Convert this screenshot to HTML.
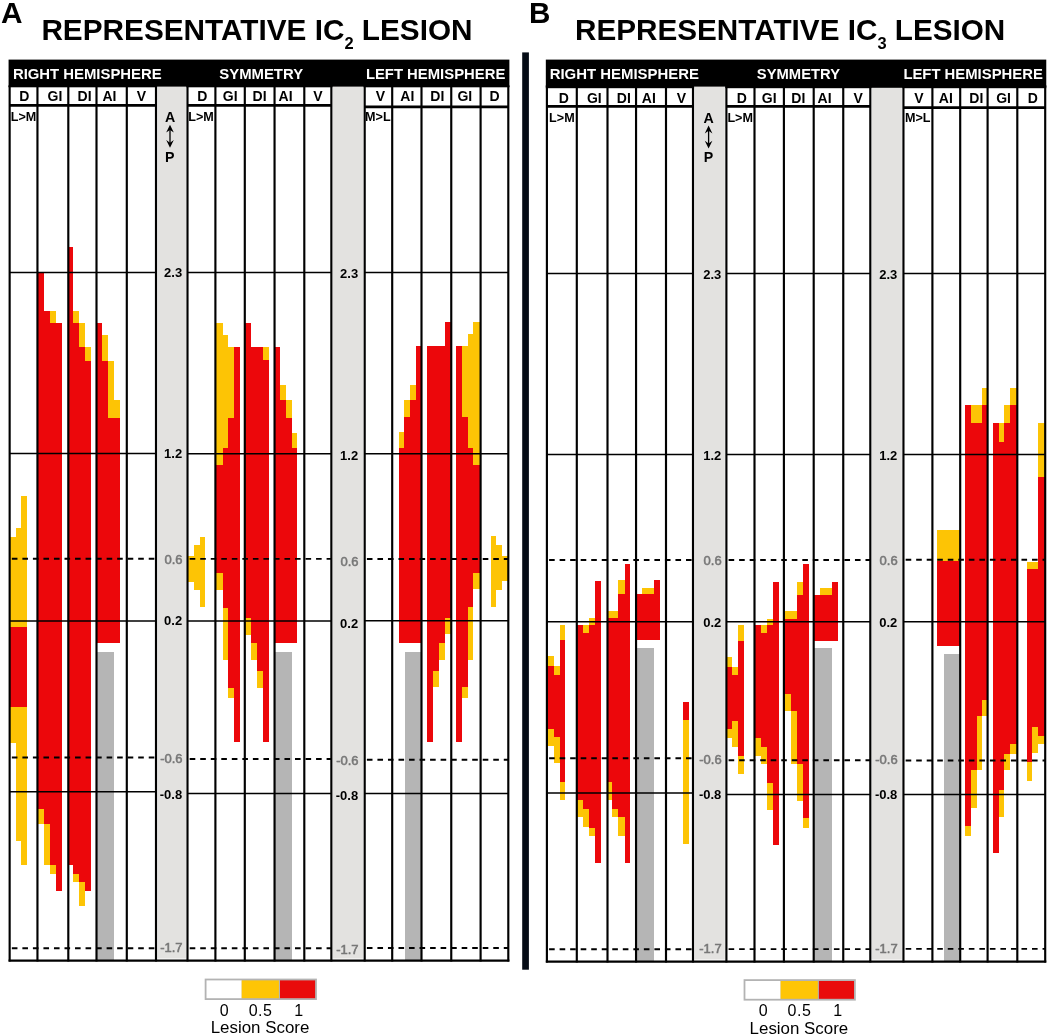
<!DOCTYPE html>
<html lang="en"><head><meta charset="utf-8"><title>Representative IC lesions</title>
<style>html,body{margin:0;padding:0;background:#fff}svg{display:block}</style></head>
<body>
<svg width="1050" height="1036" viewBox="0 0 1050 1036" font-family="'Liberation Sans', Arial, sans-serif">
<rect x="0" y="0" width="1050" height="1036" fill="#fff"/>
<rect x="157.38" y="86.10" width="28.55" height="872.40" fill="#e3e2e0"/>
<rect x="332.73" y="86.10" width="30.40" height="872.40" fill="#e3e2e0"/>
<g shape-rendering="crispEdges">
<rect x="21.30" y="496.40" width="5.40" height="130.50" fill="#fdc405"/>
<rect x="15.60" y="528.20" width="5.70" height="98.70" fill="#fdc405"/>
<rect x="10.20" y="537.00" width="5.40" height="89.90" fill="#fdc405"/>
<rect x="10.20" y="626.90" width="16.50" height="79.90" fill="#ec070b"/>
<rect x="10.20" y="706.80" width="5.40" height="35.80" fill="#fdc405"/>
<rect x="15.60" y="706.80" width="5.70" height="134.20" fill="#fdc405"/>
<rect x="21.30" y="706.80" width="5.40" height="158.20" fill="#fdc405"/>
<rect x="37.60" y="272.60" width="6.40" height="535.90" fill="#ec070b"/>
<rect x="44.00" y="311.30" width="6.00" height="512.30" fill="#ec070b"/>
<rect x="50.00" y="311.30" width="6.10" height="11.50" fill="#fdc405"/>
<rect x="50.00" y="322.80" width="6.10" height="542.20" fill="#ec070b"/>
<rect x="56.10" y="322.80" width="5.40" height="567.90" fill="#ec070b"/>
<rect x="37.60" y="808.50" width="6.40" height="15.10" fill="#fdc405"/>
<rect x="44.00" y="823.60" width="6.00" height="41.40" fill="#fdc405"/>
<rect x="50.00" y="865.00" width="6.10" height="8.80" fill="#fdc405"/>
<rect x="67.90" y="247.30" width="5.30" height="617.70" fill="#ec070b"/>
<rect x="73.20" y="311.30" width="6.10" height="11.50" fill="#fdc405"/>
<rect x="73.20" y="322.80" width="6.10" height="551.00" fill="#ec070b"/>
<rect x="79.30" y="322.80" width="5.30" height="23.80" fill="#fdc405"/>
<rect x="79.30" y="346.60" width="5.30" height="535.70" fill="#ec070b"/>
<rect x="84.60" y="346.60" width="6.10" height="13.90" fill="#fdc405"/>
<rect x="84.60" y="360.50" width="6.10" height="530.20" fill="#ec070b"/>
<rect x="73.20" y="873.80" width="6.10" height="8.50" fill="#fdc405"/>
<rect x="79.30" y="882.30" width="5.30" height="24.00" fill="#fdc405"/>
<rect x="97.00" y="322.80" width="5.20" height="320.30" fill="#ec070b"/>
<rect x="102.20" y="334.80" width="5.80" height="25.70" fill="#fdc405"/>
<rect x="102.20" y="360.50" width="5.80" height="282.60" fill="#ec070b"/>
<rect x="108.00" y="360.50" width="5.70" height="57.10" fill="#fdc405"/>
<rect x="113.70" y="400.20" width="5.80" height="17.40" fill="#fdc405"/>
<rect x="108.00" y="417.60" width="11.50" height="225.50" fill="#ec070b"/>
<rect x="97.00" y="651.80" width="17.10" height="308.80" fill="#b5b5b5"/>
<rect x="199.60" y="536.80" width="5.40" height="70.60" fill="#fdc405"/>
<rect x="193.50" y="545.30" width="6.10" height="44.70" fill="#fdc405"/>
<rect x="187.00" y="556.00" width="6.50" height="25.80" fill="#fdc405"/>
<rect x="215.20" y="322.60" width="7.40" height="142.30" fill="#fdc405"/>
<rect x="222.60" y="334.80" width="5.70" height="113.40" fill="#fdc405"/>
<rect x="228.30" y="346.80" width="5.40" height="71.00" fill="#fdc405"/>
<rect x="233.70" y="346.80" width="5.80" height="395.60" fill="#ec070b"/>
<rect x="228.30" y="417.80" width="5.40" height="270.00" fill="#ec070b"/>
<rect x="222.60" y="448.20" width="5.70" height="159.30" fill="#ec070b"/>
<rect x="215.20" y="464.90" width="7.40" height="108.30" fill="#ec070b"/>
<rect x="215.20" y="573.20" width="7.40" height="16.40" fill="#fdc405"/>
<rect x="222.60" y="607.50" width="5.70" height="52.40" fill="#fdc405"/>
<rect x="228.30" y="687.80" width="5.40" height="10.30" fill="#fdc405"/>
<rect x="244.90" y="322.60" width="5.90" height="295.80" fill="#ec070b"/>
<rect x="250.80" y="346.80" width="5.80" height="296.40" fill="#ec070b"/>
<rect x="256.60" y="346.80" width="5.90" height="324.10" fill="#ec070b"/>
<rect x="262.50" y="346.80" width="6.00" height="13.60" fill="#fdc405"/>
<rect x="262.50" y="360.40" width="6.00" height="382.00" fill="#ec070b"/>
<rect x="244.90" y="618.40" width="5.90" height="16.10" fill="#fdc405"/>
<rect x="250.80" y="643.20" width="5.80" height="16.70" fill="#fdc405"/>
<rect x="256.60" y="670.90" width="5.90" height="16.90" fill="#fdc405"/>
<rect x="274.60" y="346.80" width="5.40" height="296.40" fill="#ec070b"/>
<rect x="280.00" y="385.00" width="5.80" height="15.10" fill="#fdc405"/>
<rect x="280.00" y="400.10" width="5.80" height="243.10" fill="#ec070b"/>
<rect x="285.80" y="400.10" width="5.70" height="17.70" fill="#fdc405"/>
<rect x="285.80" y="417.80" width="5.70" height="225.40" fill="#ec070b"/>
<rect x="291.50" y="432.60" width="5.70" height="15.60" fill="#fdc405"/>
<rect x="291.50" y="448.20" width="5.70" height="195.00" fill="#ec070b"/>
<rect x="274.60" y="651.70" width="16.90" height="308.90" fill="#b5b5b5"/>
<rect x="490.80" y="536.40" width="5.40" height="70.60" fill="#fdc405"/>
<rect x="496.20" y="544.90" width="6.10" height="44.70" fill="#fdc405"/>
<rect x="502.30" y="555.60" width="6.50" height="25.80" fill="#fdc405"/>
<rect x="473.20" y="322.20" width="7.40" height="142.30" fill="#fdc405"/>
<rect x="467.50" y="334.40" width="5.70" height="113.40" fill="#fdc405"/>
<rect x="462.10" y="346.40" width="5.40" height="71.00" fill="#fdc405"/>
<rect x="456.30" y="346.40" width="5.80" height="395.60" fill="#ec070b"/>
<rect x="462.10" y="417.40" width="5.40" height="270.00" fill="#ec070b"/>
<rect x="467.50" y="447.80" width="5.70" height="159.30" fill="#ec070b"/>
<rect x="473.20" y="464.50" width="7.40" height="108.30" fill="#ec070b"/>
<rect x="473.20" y="572.80" width="7.40" height="16.40" fill="#fdc405"/>
<rect x="467.50" y="607.10" width="5.70" height="52.40" fill="#fdc405"/>
<rect x="462.10" y="687.40" width="5.40" height="10.30" fill="#fdc405"/>
<rect x="445.00" y="322.20" width="5.90" height="295.80" fill="#ec070b"/>
<rect x="439.20" y="346.40" width="5.80" height="296.40" fill="#ec070b"/>
<rect x="433.30" y="346.40" width="5.90" height="324.10" fill="#ec070b"/>
<rect x="427.30" y="346.40" width="6.00" height="13.60" fill="#ec070b"/>
<rect x="427.30" y="360.00" width="6.00" height="382.00" fill="#ec070b"/>
<rect x="445.00" y="618.00" width="5.90" height="16.10" fill="#fdc405"/>
<rect x="439.20" y="642.80" width="5.80" height="16.70" fill="#fdc405"/>
<rect x="433.30" y="670.50" width="5.90" height="16.90" fill="#fdc405"/>
<rect x="415.80" y="346.40" width="5.40" height="296.40" fill="#ec070b"/>
<rect x="410.00" y="384.60" width="5.80" height="15.10" fill="#fdc405"/>
<rect x="410.00" y="399.70" width="5.80" height="243.10" fill="#ec070b"/>
<rect x="404.30" y="399.70" width="5.70" height="17.70" fill="#fdc405"/>
<rect x="404.30" y="417.40" width="5.70" height="225.40" fill="#ec070b"/>
<rect x="398.60" y="432.20" width="5.70" height="15.60" fill="#fdc405"/>
<rect x="398.60" y="447.80" width="5.70" height="195.00" fill="#ec070b"/>
<rect x="404.70" y="651.70" width="16.50" height="308.90" fill="#b5b5b5"/>
</g>
<line x1="9.65" x2="156.00" y1="272.60" y2="272.60" stroke="#000" stroke-width="1.5"/>
<line x1="9.65" x2="156.00" y1="453.50" y2="453.50" stroke="#000" stroke-width="1.5"/>
<line x1="11.85" x2="156.00" y1="558.80" y2="558.80" stroke="#000" stroke-width="1.9" stroke-dasharray="5.6 4.93"/>
<line x1="9.65" x2="156.00" y1="620.90" y2="620.90" stroke="#000" stroke-width="1.5"/>
<line x1="11.85" x2="156.00" y1="757.50" y2="757.50" stroke="#000" stroke-width="1.9" stroke-dasharray="5.6 4.93"/>
<line x1="9.65" x2="156.00" y1="791.80" y2="791.80" stroke="#000" stroke-width="1.5"/>
<line x1="11.85" x2="156.00" y1="948.20" y2="948.20" stroke="#000" stroke-width="1.9" stroke-dasharray="5.6 4.93"/>
<line x1="9.65" x2="156.00" y1="105.35" y2="105.35" stroke="#000" stroke-width="2.8"/>
<line x1="9.65" x2="9.65" y1="85.60" y2="961.60" stroke="#000" stroke-width="2.15"/>
<line x1="37.45" x2="37.45" y1="85.60" y2="961.60" stroke="#000" stroke-width="2.15"/>
<line x1="68.30" x2="68.30" y1="85.60" y2="961.60" stroke="#000" stroke-width="2.15"/>
<line x1="96.50" x2="96.50" y1="85.60" y2="961.60" stroke="#000" stroke-width="2.15"/>
<line x1="126.80" x2="126.80" y1="85.60" y2="961.60" stroke="#000" stroke-width="2.15"/>
<line x1="156.00" x2="156.00" y1="85.60" y2="961.60" stroke="#000" stroke-width="2.15"/>
<rect x="8.58" y="85.60" width="148.50" height="1.70" fill="#000"/>
<line x1="187.50" x2="331.35" y1="272.50" y2="272.50" stroke="#000" stroke-width="1.5"/>
<line x1="187.50" x2="331.35" y1="453.80" y2="453.80" stroke="#000" stroke-width="1.5"/>
<line x1="189.70" x2="331.35" y1="558.90" y2="558.90" stroke="#000" stroke-width="1.9" stroke-dasharray="5.6 4.93"/>
<line x1="187.50" x2="331.35" y1="620.90" y2="620.90" stroke="#000" stroke-width="1.5"/>
<line x1="189.70" x2="331.35" y1="759.00" y2="759.00" stroke="#000" stroke-width="1.9" stroke-dasharray="5.6 4.93"/>
<line x1="187.50" x2="331.35" y1="793.50" y2="793.50" stroke="#000" stroke-width="1.5"/>
<line x1="189.70" x2="331.35" y1="948.20" y2="948.20" stroke="#000" stroke-width="1.9" stroke-dasharray="5.6 4.93"/>
<line x1="187.50" x2="331.35" y1="105.30" y2="105.30" stroke="#000" stroke-width="2.8"/>
<line x1="187.50" x2="187.50" y1="85.60" y2="961.60" stroke="#000" stroke-width="2.15"/>
<line x1="215.40" x2="215.40" y1="85.60" y2="961.60" stroke="#000" stroke-width="2.15"/>
<line x1="244.80" x2="244.80" y1="85.60" y2="961.60" stroke="#000" stroke-width="2.15"/>
<line x1="274.55" x2="274.55" y1="85.60" y2="961.60" stroke="#000" stroke-width="2.15"/>
<line x1="304.30" x2="304.30" y1="85.60" y2="961.60" stroke="#000" stroke-width="2.15"/>
<line x1="331.35" x2="331.35" y1="85.60" y2="961.60" stroke="#000" stroke-width="2.15"/>
<rect x="186.43" y="85.60" width="146.00" height="1.70" fill="#000"/>
<line x1="364.70" x2="508.30" y1="272.50" y2="272.50" stroke="#000" stroke-width="1.5"/>
<line x1="364.70" x2="508.30" y1="453.80" y2="453.80" stroke="#000" stroke-width="1.5"/>
<line x1="366.90" x2="508.30" y1="559.00" y2="559.00" stroke="#000" stroke-width="1.9" stroke-dasharray="5.6 4.93"/>
<line x1="364.70" x2="508.30" y1="620.70" y2="620.70" stroke="#000" stroke-width="1.5"/>
<line x1="366.90" x2="508.30" y1="759.80" y2="759.80" stroke="#000" stroke-width="1.9" stroke-dasharray="5.6 4.93"/>
<line x1="364.70" x2="508.30" y1="793.50" y2="793.50" stroke="#000" stroke-width="1.5"/>
<line x1="366.90" x2="508.30" y1="948.00" y2="948.00" stroke="#000" stroke-width="1.9" stroke-dasharray="5.6 4.93"/>
<line x1="364.70" x2="508.30" y1="106.90" y2="106.90" stroke="#000" stroke-width="2.8"/>
<line x1="364.70" x2="364.70" y1="85.60" y2="961.60" stroke="#000" stroke-width="2.15"/>
<line x1="392.20" x2="392.20" y1="85.60" y2="961.60" stroke="#000" stroke-width="2.15"/>
<line x1="421.50" x2="421.50" y1="85.60" y2="961.60" stroke="#000" stroke-width="2.15"/>
<line x1="451.25" x2="451.25" y1="85.60" y2="961.60" stroke="#000" stroke-width="2.15"/>
<line x1="480.60" x2="480.60" y1="85.60" y2="961.60" stroke="#000" stroke-width="2.15"/>
<line x1="508.30" x2="508.30" y1="85.60" y2="961.60" stroke="#000" stroke-width="2.15"/>
<rect x="363.62" y="85.60" width="145.75" height="1.70" fill="#000"/>
<line x1="8.58" x2="509.38" y1="960.60" y2="960.60" stroke="#000" stroke-width="2.1"/>
<rect x="8.58" y="59.60" width="500.80" height="27.00" fill="#000"/>
<rect x="694.38" y="86.10" width="30.45" height="873.40" fill="#e3e2e0"/>
<rect x="871.67" y="87.40" width="30.20" height="872.10" fill="#e3e2e0"/>
<g shape-rendering="crispEdges">
<rect x="559.70" y="624.80" width="5.70" height="15.60" fill="#fdc405"/>
<rect x="559.70" y="640.40" width="5.70" height="141.60" fill="#ec070b"/>
<rect x="559.70" y="782.00" width="5.70" height="18.10" fill="#fdc405"/>
<rect x="547.00" y="655.70" width="6.60" height="10.30" fill="#fdc405"/>
<rect x="547.00" y="666.00" width="6.60" height="62.70" fill="#ec070b"/>
<rect x="547.00" y="728.70" width="6.60" height="17.70" fill="#fdc405"/>
<rect x="553.60" y="666.00" width="6.10" height="8.60" fill="#fdc405"/>
<rect x="553.60" y="674.60" width="6.10" height="62.80" fill="#ec070b"/>
<rect x="553.60" y="737.40" width="6.10" height="25.40" fill="#fdc405"/>
<rect x="594.60" y="580.50" width="6.10" height="282.40" fill="#ec070b"/>
<rect x="588.90" y="618.00" width="5.70" height="6.50" fill="#fdc405"/>
<rect x="588.90" y="624.50" width="5.70" height="203.00" fill="#ec070b"/>
<rect x="588.90" y="827.50" width="5.70" height="8.40" fill="#fdc405"/>
<rect x="576.70" y="624.50" width="6.30" height="175.90" fill="#ec070b"/>
<rect x="576.70" y="800.40" width="6.30" height="16.90" fill="#fdc405"/>
<rect x="583.00" y="624.50" width="5.90" height="8.50" fill="#fdc405"/>
<rect x="583.00" y="633.00" width="5.90" height="176.10" fill="#ec070b"/>
<rect x="583.00" y="809.10" width="5.90" height="18.10" fill="#fdc405"/>
<rect x="624.50" y="563.80" width="5.80" height="299.10" fill="#ec070b"/>
<rect x="618.40" y="580.20" width="6.10" height="14.00" fill="#fdc405"/>
<rect x="618.40" y="594.20" width="6.10" height="223.10" fill="#ec070b"/>
<rect x="618.40" y="817.30" width="6.10" height="18.60" fill="#fdc405"/>
<rect x="607.40" y="610.90" width="11.00" height="7.10" fill="#fdc405"/>
<rect x="607.40" y="618.00" width="4.80" height="164.00" fill="#ec070b"/>
<rect x="607.40" y="782.00" width="4.80" height="18.10" fill="#fdc405"/>
<rect x="612.20" y="618.00" width="6.20" height="191.10" fill="#ec070b"/>
<rect x="612.20" y="809.10" width="6.20" height="8.20" fill="#fdc405"/>
<rect x="653.70" y="580.20" width="6.10" height="60.20" fill="#ec070b"/>
<rect x="642.10" y="587.60" width="11.60" height="6.60" fill="#fdc405"/>
<rect x="636.00" y="594.20" width="17.70" height="46.20" fill="#ec070b"/>
<rect x="636.00" y="647.50" width="17.50" height="314.10" fill="#b5b5b5"/>
<rect x="683.30" y="701.60" width="5.70" height="18.40" fill="#ec070b"/>
<rect x="683.30" y="720.00" width="5.70" height="123.90" fill="#fdc405"/>
<rect x="738.00" y="625.30" width="5.70" height="15.90" fill="#fdc405"/>
<rect x="738.00" y="641.20" width="5.70" height="114.40" fill="#ec070b"/>
<rect x="738.00" y="755.60" width="5.70" height="18.40" fill="#fdc405"/>
<rect x="726.40" y="656.50" width="5.50" height="10.30" fill="#fdc405"/>
<rect x="726.40" y="666.80" width="5.50" height="62.60" fill="#ec070b"/>
<rect x="726.40" y="729.40" width="5.50" height="8.70" fill="#fdc405"/>
<rect x="731.90" y="666.80" width="6.10" height="8.20" fill="#fdc405"/>
<rect x="731.90" y="675.00" width="6.10" height="46.20" fill="#ec070b"/>
<rect x="731.90" y="721.20" width="6.10" height="25.90" fill="#fdc405"/>
<rect x="773.30" y="581.50" width="5.70" height="263.60" fill="#ec070b"/>
<rect x="767.20" y="618.80" width="6.10" height="6.50" fill="#fdc405"/>
<rect x="767.20" y="625.30" width="6.10" height="157.70" fill="#ec070b"/>
<rect x="767.20" y="783.00" width="6.10" height="26.50" fill="#fdc405"/>
<rect x="754.40" y="625.30" width="6.90" height="112.80" fill="#ec070b"/>
<rect x="754.40" y="738.10" width="6.90" height="17.50" fill="#fdc405"/>
<rect x="761.30" y="625.30" width="5.90" height="7.70" fill="#fdc405"/>
<rect x="761.30" y="633.00" width="5.90" height="114.10" fill="#ec070b"/>
<rect x="761.30" y="747.10" width="5.90" height="16.70" fill="#fdc405"/>
<rect x="802.60" y="564.30" width="5.90" height="253.70" fill="#ec070b"/>
<rect x="802.60" y="818.00" width="5.90" height="10.30" fill="#fdc405"/>
<rect x="796.60" y="581.80" width="6.00" height="13.20" fill="#fdc405"/>
<rect x="796.60" y="595.00" width="6.00" height="168.80" fill="#ec070b"/>
<rect x="796.60" y="763.80" width="6.00" height="37.50" fill="#fdc405"/>
<rect x="783.90" y="611.40" width="12.70" height="7.40" fill="#fdc405"/>
<rect x="783.90" y="618.80" width="6.90" height="75.00" fill="#ec070b"/>
<rect x="783.90" y="693.80" width="6.90" height="16.70" fill="#fdc405"/>
<rect x="790.80" y="618.80" width="5.80" height="91.70" fill="#ec070b"/>
<rect x="790.80" y="710.50" width="5.80" height="53.30" fill="#fdc405"/>
<rect x="832.00" y="581.80" width="5.70" height="59.40" fill="#ec070b"/>
<rect x="820.00" y="588.10" width="12.00" height="6.90" fill="#fdc405"/>
<rect x="813.50" y="595.00" width="18.50" height="46.20" fill="#ec070b"/>
<rect x="813.50" y="648.00" width="18.50" height="313.60" fill="#b5b5b5"/>
<rect x="1037.90" y="423.30" width="6.90" height="53.40" fill="#fdc405"/>
<rect x="1037.90" y="476.70" width="6.90" height="259.10" fill="#ec070b"/>
<rect x="1037.90" y="735.80" width="6.90" height="7.90" fill="#fdc405"/>
<rect x="1026.50" y="561.80" width="11.40" height="6.90" fill="#fdc405"/>
<rect x="1032.30" y="568.70" width="5.60" height="158.40" fill="#ec070b"/>
<rect x="1032.30" y="727.10" width="5.60" height="25.90" fill="#fdc405"/>
<rect x="1026.50" y="568.70" width="5.80" height="193.30" fill="#ec070b"/>
<rect x="1026.50" y="762.00" width="5.80" height="19.20" fill="#fdc405"/>
<rect x="1009.60" y="387.70" width="7.50" height="17.60" fill="#fdc405"/>
<rect x="1009.60" y="405.30" width="7.50" height="338.40" fill="#ec070b"/>
<rect x="1009.60" y="743.70" width="7.50" height="10.10" fill="#fdc405"/>
<rect x="1004.20" y="405.30" width="5.40" height="18.00" fill="#fdc405"/>
<rect x="1004.20" y="423.30" width="5.40" height="330.50" fill="#ec070b"/>
<rect x="1004.20" y="753.80" width="5.40" height="16.50" fill="#fdc405"/>
<rect x="998.60" y="423.30" width="5.60" height="18.90" fill="#fdc405"/>
<rect x="998.60" y="442.20" width="5.60" height="347.80" fill="#ec070b"/>
<rect x="998.60" y="790.00" width="5.60" height="27.00" fill="#fdc405"/>
<rect x="993.20" y="423.30" width="5.40" height="429.50" fill="#ec070b"/>
<rect x="981.70" y="387.70" width="6.30" height="17.60" fill="#fdc405"/>
<rect x="981.70" y="405.30" width="6.30" height="294.40" fill="#ec070b"/>
<rect x="981.70" y="699.70" width="6.30" height="16.70" fill="#fdc405"/>
<rect x="970.70" y="405.30" width="11.00" height="18.00" fill="#fdc405"/>
<rect x="976.50" y="423.30" width="5.20" height="293.10" fill="#ec070b"/>
<rect x="976.50" y="716.40" width="5.20" height="53.90" fill="#fdc405"/>
<rect x="970.70" y="423.30" width="5.80" height="347.00" fill="#ec070b"/>
<rect x="970.70" y="770.30" width="5.80" height="38.00" fill="#fdc405"/>
<rect x="965.00" y="405.30" width="5.70" height="420.50" fill="#ec070b"/>
<rect x="965.00" y="825.80" width="5.70" height="9.70" fill="#fdc405"/>
<rect x="937.40" y="530.40" width="23.00" height="30.60" fill="#fdc405"/>
<rect x="937.40" y="561.00" width="23.00" height="85.40" fill="#ec070b"/>
<rect x="943.70" y="653.70" width="16.70" height="307.90" fill="#b5b5b5"/>
</g>
<line x1="546.90" x2="693.00" y1="273.40" y2="273.40" stroke="#000" stroke-width="1.5"/>
<line x1="546.90" x2="693.00" y1="454.50" y2="454.50" stroke="#000" stroke-width="1.5"/>
<line x1="549.10" x2="693.00" y1="560.00" y2="560.00" stroke="#000" stroke-width="1.9" stroke-dasharray="5.6 4.93"/>
<line x1="546.90" x2="693.00" y1="621.70" y2="621.70" stroke="#000" stroke-width="1.5"/>
<line x1="549.10" x2="693.00" y1="758.20" y2="758.20" stroke="#000" stroke-width="1.9" stroke-dasharray="5.6 4.93"/>
<line x1="546.90" x2="693.00" y1="792.90" y2="792.90" stroke="#000" stroke-width="1.5"/>
<line x1="549.10" x2="693.00" y1="949.20" y2="949.20" stroke="#000" stroke-width="1.9" stroke-dasharray="5.6 4.93"/>
<line x1="546.90" x2="693.00" y1="106.30" y2="106.30" stroke="#000" stroke-width="2.8"/>
<line x1="546.90" x2="546.90" y1="85.60" y2="962.60" stroke="#000" stroke-width="2.15"/>
<line x1="576.80" x2="576.80" y1="85.60" y2="962.60" stroke="#000" stroke-width="2.15"/>
<line x1="607.50" x2="607.50" y1="85.60" y2="962.60" stroke="#000" stroke-width="2.15"/>
<line x1="636.05" x2="636.05" y1="85.60" y2="962.60" stroke="#000" stroke-width="2.15"/>
<line x1="666.00" x2="666.00" y1="85.60" y2="962.60" stroke="#000" stroke-width="2.15"/>
<line x1="693.00" x2="693.00" y1="85.60" y2="962.60" stroke="#000" stroke-width="2.15"/>
<rect x="545.82" y="85.60" width="148.25" height="2.60" fill="#000"/>
<line x1="726.40" x2="870.30" y1="273.40" y2="273.40" stroke="#000" stroke-width="1.5"/>
<line x1="726.40" x2="870.30" y1="454.50" y2="454.50" stroke="#000" stroke-width="1.5"/>
<line x1="728.60" x2="870.30" y1="560.00" y2="560.00" stroke="#000" stroke-width="1.9" stroke-dasharray="5.6 4.93"/>
<line x1="726.40" x2="870.30" y1="621.80" y2="621.80" stroke="#000" stroke-width="1.5"/>
<line x1="728.60" x2="870.30" y1="760.20" y2="760.20" stroke="#000" stroke-width="1.9" stroke-dasharray="5.6 4.93"/>
<line x1="726.40" x2="870.30" y1="794.50" y2="794.50" stroke="#000" stroke-width="1.5"/>
<line x1="728.60" x2="870.30" y1="949.10" y2="949.10" stroke="#000" stroke-width="1.9" stroke-dasharray="5.6 4.93"/>
<line x1="726.40" x2="870.30" y1="106.30" y2="106.30" stroke="#000" stroke-width="2.8"/>
<line x1="726.40" x2="726.40" y1="85.60" y2="962.60" stroke="#000" stroke-width="2.15"/>
<line x1="754.50" x2="754.50" y1="85.60" y2="962.60" stroke="#000" stroke-width="2.15"/>
<line x1="783.90" x2="783.90" y1="85.60" y2="962.60" stroke="#000" stroke-width="2.15"/>
<line x1="813.70" x2="813.70" y1="85.60" y2="962.60" stroke="#000" stroke-width="2.15"/>
<line x1="843.25" x2="843.25" y1="85.60" y2="962.60" stroke="#000" stroke-width="2.15"/>
<line x1="870.30" x2="870.30" y1="85.60" y2="962.60" stroke="#000" stroke-width="2.15"/>
<rect x="725.32" y="85.60" width="146.05" height="2.60" fill="#000"/>
<line x1="903.45" x2="1045.20" y1="273.40" y2="273.40" stroke="#000" stroke-width="1.5"/>
<line x1="903.45" x2="1045.20" y1="454.50" y2="454.50" stroke="#000" stroke-width="1.5"/>
<line x1="905.65" x2="1045.20" y1="559.80" y2="559.80" stroke="#000" stroke-width="1.9" stroke-dasharray="5.6 4.93"/>
<line x1="903.45" x2="1045.20" y1="621.80" y2="621.80" stroke="#000" stroke-width="1.5"/>
<line x1="905.65" x2="1045.20" y1="760.50" y2="760.50" stroke="#000" stroke-width="1.9" stroke-dasharray="5.6 4.93"/>
<line x1="903.45" x2="1045.20" y1="794.50" y2="794.50" stroke="#000" stroke-width="1.5"/>
<line x1="905.65" x2="1045.20" y1="948.90" y2="948.90" stroke="#000" stroke-width="1.9" stroke-dasharray="5.6 4.93"/>
<line x1="903.45" x2="1045.20" y1="107.70" y2="107.70" stroke="#000" stroke-width="2.8"/>
<line x1="903.45" x2="903.45" y1="85.60" y2="962.60" stroke="#000" stroke-width="2.15"/>
<line x1="932.40" x2="932.40" y1="85.60" y2="962.60" stroke="#000" stroke-width="2.15"/>
<line x1="960.20" x2="960.20" y1="85.60" y2="962.60" stroke="#000" stroke-width="2.15"/>
<line x1="987.60" x2="987.60" y1="85.60" y2="962.60" stroke="#000" stroke-width="2.15"/>
<line x1="1017.30" x2="1017.30" y1="85.60" y2="962.60" stroke="#000" stroke-width="2.15"/>
<line x1="1045.20" x2="1045.20" y1="85.60" y2="962.60" stroke="#000" stroke-width="2.15"/>
<rect x="902.38" y="85.60" width="143.90" height="2.60" fill="#000"/>
<line x1="545.82" x2="1046.28" y1="961.60" y2="961.60" stroke="#000" stroke-width="2.1"/>
<rect x="545.82" y="59.60" width="500.45" height="27.00" fill="#000"/>
<rect x="870.30" y="85.60" width="33.15" height="2.20" fill="#000"/>
<rect x="522.20" y="52.40" width="6.70" height="917.30" fill="#050c16"/>
<text x="0.90" y="23.30" font-size="29.8" font-weight="bold" fill="#000" text-anchor="start">A</text>
<text x="528.90" y="23.30" font-size="29.6" font-weight="bold" fill="#000" text-anchor="start">B</text>
<text x="41.40" y="39.7" font-size="29.8" font-weight="bold" fill="#000" textLength="431.2" lengthAdjust="spacingAndGlyphs">REPRESENTATIVE IC<tspan font-size="16.5" dy="9.6">2</tspan><tspan dy="-9.6"> LESION</tspan></text>
<text x="575.00" y="39.7" font-size="29.8" font-weight="bold" fill="#000" textLength="430.3" lengthAdjust="spacingAndGlyphs">REPRESENTATIVE IC<tspan font-size="16.5" dy="9.6">3</tspan><tspan dy="-9.6"> LESION</tspan></text>
<text x="12.90" y="79.3" font-size="15.4" font-weight="bold" fill="#fff" text-anchor="start" textLength="148.8" lengthAdjust="spacingAndGlyphs">RIGHT HEMISPHERE</text>
<text x="219.30" y="79.3" font-size="15.4" font-weight="bold" fill="#fff" text-anchor="start" textLength="83.8" lengthAdjust="spacingAndGlyphs">SYMMETRY</text>
<text x="365.90" y="79.3" font-size="15.4" font-weight="bold" fill="#fff" text-anchor="start" textLength="139.4" lengthAdjust="spacingAndGlyphs">LEFT HEMISPHERE</text>
<text x="549.70" y="79.3" font-size="15.4" font-weight="bold" fill="#fff" text-anchor="start" textLength="149.2" lengthAdjust="spacingAndGlyphs">RIGHT HEMISPHERE</text>
<text x="756.80" y="79.3" font-size="15.4" font-weight="bold" fill="#fff" text-anchor="start" textLength="83.2" lengthAdjust="spacingAndGlyphs">SYMMETRY</text>
<text x="903.40" y="79.3" font-size="15.4" font-weight="bold" fill="#fff" text-anchor="start" textLength="139.4" lengthAdjust="spacingAndGlyphs">LEFT HEMISPHERE</text>
<text x="24.20" y="101.40" font-size="14.0" font-weight="bold" fill="#000" text-anchor="middle">D</text>
<text x="54.90" y="101.40" font-size="14.0" font-weight="bold" fill="#000" text-anchor="middle">GI</text>
<text x="84.60" y="101.40" font-size="14.0" font-weight="bold" fill="#000" text-anchor="middle">DI</text>
<text x="109.40" y="101.40" font-size="14.0" font-weight="bold" fill="#000" text-anchor="middle">AI</text>
<text x="141.50" y="101.40" font-size="14.0" font-weight="bold" fill="#000" text-anchor="middle">V</text>
<text x="202.30" y="101.40" font-size="14.0" font-weight="bold" fill="#000" text-anchor="middle">D</text>
<text x="230.20" y="101.40" font-size="14.0" font-weight="bold" fill="#000" text-anchor="middle">GI</text>
<text x="259.60" y="101.40" font-size="14.0" font-weight="bold" fill="#000" text-anchor="middle">DI</text>
<text x="285.60" y="101.40" font-size="14.0" font-weight="bold" fill="#000" text-anchor="middle">AI</text>
<text x="317.80" y="101.40" font-size="14.0" font-weight="bold" fill="#000" text-anchor="middle">V</text>
<text x="380.40" y="101.40" font-size="14.0" font-weight="bold" fill="#000" text-anchor="middle">V</text>
<text x="407.30" y="101.40" font-size="14.0" font-weight="bold" fill="#000" text-anchor="middle">AI</text>
<text x="437.30" y="101.40" font-size="14.0" font-weight="bold" fill="#000" text-anchor="middle">DI</text>
<text x="464.80" y="101.40" font-size="14.0" font-weight="bold" fill="#000" text-anchor="middle">GI</text>
<text x="494.60" y="101.40" font-size="14.0" font-weight="bold" fill="#000" text-anchor="middle">D</text>
<text x="563.90" y="102.50" font-size="14.0" font-weight="bold" fill="#000" text-anchor="middle">D</text>
<text x="594.30" y="102.50" font-size="14.0" font-weight="bold" fill="#000" text-anchor="middle">GI</text>
<text x="623.80" y="102.50" font-size="14.0" font-weight="bold" fill="#000" text-anchor="middle">DI</text>
<text x="648.80" y="102.50" font-size="14.0" font-weight="bold" fill="#000" text-anchor="middle">AI</text>
<text x="681.30" y="102.50" font-size="14.0" font-weight="bold" fill="#000" text-anchor="middle">V</text>
<text x="741.70" y="102.50" font-size="14.0" font-weight="bold" fill="#000" text-anchor="middle">D</text>
<text x="769.20" y="102.50" font-size="14.0" font-weight="bold" fill="#000" text-anchor="middle">GI</text>
<text x="798.30" y="102.50" font-size="14.0" font-weight="bold" fill="#000" text-anchor="middle">DI</text>
<text x="824.60" y="102.50" font-size="14.0" font-weight="bold" fill="#000" text-anchor="middle">AI</text>
<text x="858.20" y="102.50" font-size="14.0" font-weight="bold" fill="#000" text-anchor="middle">V</text>
<text x="918.80" y="102.50" font-size="14.0" font-weight="bold" fill="#000" text-anchor="middle">V</text>
<text x="945.80" y="102.50" font-size="14.0" font-weight="bold" fill="#000" text-anchor="middle">AI</text>
<text x="976.30" y="102.50" font-size="14.0" font-weight="bold" fill="#000" text-anchor="middle">DI</text>
<text x="1003.60" y="102.50" font-size="14.0" font-weight="bold" fill="#000" text-anchor="middle">GI</text>
<text x="1032.90" y="102.50" font-size="14.0" font-weight="bold" fill="#000" text-anchor="middle">D</text>
<text x="10.70" y="120.70" font-size="12.6" font-weight="bold" fill="#000" text-anchor="start">L&gt;M</text>
<text x="188.30" y="120.70" font-size="12.6" font-weight="bold" fill="#000" text-anchor="start">L&gt;M</text>
<text x="365.10" y="120.60" font-size="12.6" font-weight="bold" fill="#000" text-anchor="start">M&gt;L</text>
<text x="549.10" y="121.60" font-size="12.6" font-weight="bold" fill="#000" text-anchor="start">L&gt;M</text>
<text x="727.40" y="121.60" font-size="12.6" font-weight="bold" fill="#000" text-anchor="start">L&gt;M</text>
<text x="905.00" y="121.60" font-size="12.6" font-weight="bold" fill="#000" text-anchor="start">M&gt;L</text>
<text x="170.00" y="121.80" font-size="14.2" font-weight="bold" fill="#000" text-anchor="middle">A</text>
<text x="169.80" y="161.50" font-size="14.2" font-weight="bold" fill="#000" text-anchor="middle">P</text>
<path d="M170.00 127.80V144.80" stroke="#000" stroke-width="1.3" fill="none"/>
<path d="M170.00 124.80l3.8 7.8l-3.8 -2.7l-3.8 2.7z" fill="#000"/>
<path d="M170.00 147.80l3.8 -7.8l-3.8 2.7l-3.8 -2.7z" fill="#000"/>
<text x="708.60" y="122.60" font-size="14.2" font-weight="bold" fill="#000" text-anchor="middle">A</text>
<text x="708.40" y="162.30" font-size="14.2" font-weight="bold" fill="#000" text-anchor="middle">P</text>
<path d="M708.60 128.60V145.60" stroke="#000" stroke-width="1.3" fill="none"/>
<path d="M708.60 125.60l3.8 7.8l-3.8 -2.7l-3.8 2.7z" fill="#000"/>
<path d="M708.60 148.60l3.8 -7.8l-3.8 2.7l-3.8 -2.7z" fill="#000"/>
<text x="182.20" y="277.30" font-size="13.0" font-weight="bold" fill="#000" text-anchor="end">2.3</text>
<text x="182.20" y="458.20" font-size="13.0" font-weight="bold" fill="#000" text-anchor="end">1.2</text>
<text x="182.60" y="563.70" font-size="13.0" font-weight="normal" fill="#777" text-anchor="end" stroke="#777" stroke-width="0.55">0.6</text>
<text x="182.20" y="625.30" font-size="13.0" font-weight="bold" fill="#000" text-anchor="end">0.2</text>
<text x="182.60" y="763.20" font-size="13.0" font-weight="normal" fill="#777" text-anchor="end" stroke="#777" stroke-width="0.55">-0.6</text>
<text x="182.20" y="798.60" font-size="13.0" font-weight="bold" fill="#000" text-anchor="end">-0.8</text>
<text x="182.60" y="952.00" font-size="13.0" font-weight="normal" fill="#777" text-anchor="end" stroke="#777" stroke-width="0.55">-1.7</text>
<text x="358.20" y="278.30" font-size="13.0" font-weight="bold" fill="#000" text-anchor="end">2.3</text>
<text x="358.20" y="460.00" font-size="13.0" font-weight="bold" fill="#000" text-anchor="end">1.2</text>
<text x="358.60" y="565.60" font-size="13.0" font-weight="normal" fill="#777" text-anchor="end" stroke="#777" stroke-width="0.55">0.6</text>
<text x="358.20" y="628.30" font-size="13.0" font-weight="bold" fill="#000" text-anchor="end">0.2</text>
<text x="358.60" y="764.70" font-size="13.0" font-weight="normal" fill="#777" text-anchor="end" stroke="#777" stroke-width="0.55">-0.6</text>
<text x="358.20" y="799.70" font-size="13.0" font-weight="bold" fill="#000" text-anchor="end">-0.8</text>
<text x="358.60" y="953.80" font-size="13.0" font-weight="normal" fill="#777" text-anchor="end" stroke="#777" stroke-width="0.55">-1.7</text>
<text x="721.30" y="278.50" font-size="13.0" font-weight="bold" fill="#000" text-anchor="end">2.3</text>
<text x="721.30" y="459.60" font-size="13.0" font-weight="bold" fill="#000" text-anchor="end">1.2</text>
<text x="721.70" y="564.90" font-size="13.0" font-weight="normal" fill="#777" text-anchor="end" stroke="#777" stroke-width="0.55">0.6</text>
<text x="721.30" y="626.70" font-size="13.0" font-weight="bold" fill="#000" text-anchor="end">0.2</text>
<text x="721.70" y="764.10" font-size="13.0" font-weight="normal" fill="#777" text-anchor="end" stroke="#777" stroke-width="0.55">-0.6</text>
<text x="721.30" y="798.90" font-size="13.0" font-weight="bold" fill="#000" text-anchor="end">-0.8</text>
<text x="721.70" y="953.20" font-size="13.0" font-weight="normal" fill="#777" text-anchor="end" stroke="#777" stroke-width="0.55">-1.7</text>
<text x="897.30" y="278.60" font-size="13.0" font-weight="bold" fill="#000" text-anchor="end">2.3</text>
<text x="897.30" y="459.70" font-size="13.0" font-weight="bold" fill="#000" text-anchor="end">1.2</text>
<text x="897.70" y="565.30" font-size="13.0" font-weight="normal" fill="#777" text-anchor="end" stroke="#777" stroke-width="0.55">0.6</text>
<text x="897.30" y="627.20" font-size="13.0" font-weight="bold" fill="#000" text-anchor="end">0.2</text>
<text x="897.70" y="764.10" font-size="13.0" font-weight="normal" fill="#777" text-anchor="end" stroke="#777" stroke-width="0.55">-0.6</text>
<text x="897.30" y="798.70" font-size="13.0" font-weight="bold" fill="#000" text-anchor="end">-0.8</text>
<text x="897.70" y="953.30" font-size="13.0" font-weight="normal" fill="#777" text-anchor="end" stroke="#777" stroke-width="0.55">-1.7</text>
<rect x="204.70" y="978.60" width="112.20" height="21.40" fill="#b3b3b3"/>
<rect x="206.50" y="980.40" width="35.20" height="17.80" fill="#fff"/>
<rect x="241.70" y="980.40" width="37.20" height="17.80" fill="#fec505"/>
<rect x="280.00" y="980.40" width="35.10" height="17.80" fill="#e90b0b"/>
<text x="224.30" y="1015.80" font-size="16.0" font-weight="normal" fill="#000" text-anchor="middle">0</text>
<text x="260.30" y="1015.80" font-size="16.0" font-weight="normal" fill="#000" text-anchor="middle" textLength="23.2" lengthAdjust="spacing">0.5</text>
<text x="298.70" y="1015.80" font-size="16.0" font-weight="normal" fill="#000" text-anchor="middle">1</text>
<text x="260.00" y="1033.40" font-size="16.9" font-weight="normal" fill="#000" text-anchor="middle">Lesion Score</text>
<rect x="743.60" y="979.20" width="112.20" height="21.40" fill="#b3b3b3"/>
<rect x="745.40" y="981.00" width="35.20" height="17.80" fill="#fff"/>
<rect x="780.60" y="981.00" width="37.20" height="17.80" fill="#fec505"/>
<rect x="818.90" y="981.00" width="35.10" height="17.80" fill="#e90b0b"/>
<text x="763.20" y="1016.40" font-size="16.0" font-weight="normal" fill="#000" text-anchor="middle">0</text>
<text x="799.20" y="1016.40" font-size="16.0" font-weight="normal" fill="#000" text-anchor="middle" textLength="23.2" lengthAdjust="spacing">0.5</text>
<text x="837.60" y="1016.40" font-size="16.0" font-weight="normal" fill="#000" text-anchor="middle">1</text>
<text x="798.90" y="1034.00" font-size="16.9" font-weight="normal" fill="#000" text-anchor="middle">Lesion Score</text>
</svg>
</body></html>
